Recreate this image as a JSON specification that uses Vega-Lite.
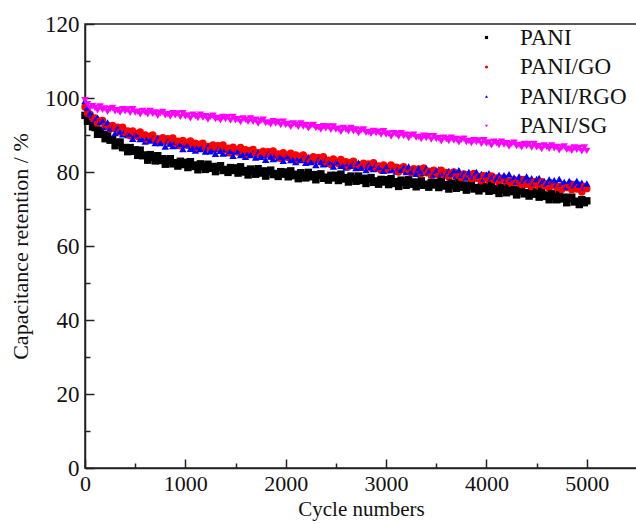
{
  "$schema": "https://vega.github.io/schema/vega-lite/v6.json",
  "width": 552,
  "height": 444,
  "autosize": {"type": "none"},
  "padding": {"left": 85, "top": 24, "right": 0, "bottom": 56},
  "background": "white",
  "config": {
    "view": {"stroke": "#222", "strokeWidth": 1.5},
    "font": "Liberation Serif",
    "axis": {"domainColor": "#222", "domainWidth": 1.5, "tickColor": "#222", "tickWidth": 1.5, "grid": false, "labelFont": "Liberation Serif", "titleFont": "Liberation Serif", "labelColor": "#111", "titleColor": "#111", "labelFontSize": 23, "titleFontSize": 22, "titleFontWeight": "normal"}
  },
  "data": {
    "values": [
{"c":0,"PANI":95.3,"PANI/GO":97.6,"PANI/RGO":99.2,"PANI/SG":99.4},
{"c":25,"PANI":93.7,"PANI/GO":95.8,"PANI/RGO":97.4,"PANI/SG":98.3},
{"c":50,"PANI":93.7,"PANI/GO":95.6,"PANI/RGO":95.8,"PANI/SG":97.3},
{"c":75,"PANI":92.2,"PANI/GO":94.5,"PANI/RGO":95.3,"PANI/SG":97.8},
{"c":100,"PANI":92.0,"PANI/GO":94.6,"PANI/RGO":93.9,"PANI/SG":97.3},
{"c":125,"PANI":90.2,"PANI/GO":93.1,"PANI/RGO":94.7,"PANI/SG":96.7},
{"c":150,"PANI":91.3,"PANI/GO":93.8,"PANI/RGO":93.6,"PANI/SG":97.7},
{"c":175,"PANI":90.2,"PANI/GO":93.9,"PANI/RGO":93.8,"PANI/SG":96.8},
{"c":200,"PANI":89.0,"PANI/GO":92.4,"PANI/RGO":92.2,"PANI/SG":97.2},
{"c":225,"PANI":90.1,"PANI/GO":92.6,"PANI/RGO":93.4,"PANI/SG":96.3},
{"c":250,"PANI":88.6,"PANI/GO":91.6,"PANI/RGO":91.8,"PANI/SG":97.0},
{"c":275,"PANI":88.8,"PANI/GO":92.6,"PANI/RGO":92.0,"PANI/SG":97.3},
{"c":300,"PANI":87.1,"PANI/GO":91.7,"PANI/RGO":90.5,"PANI/SG":96.4},
{"c":325,"PANI":88.0,"PANI/GO":92.1,"PANI/RGO":91.8,"PANI/SG":96.7},
{"c":350,"PANI":88.1,"PANI/GO":90.8,"PANI/RGO":91.0,"PANI/SG":96.1},
{"c":375,"PANI":86.6,"PANI/GO":92.1,"PANI/RGO":90.2,"PANI/SG":97.0},
{"c":400,"PANI":86.6,"PANI/GO":90.7,"PANI/RGO":91.2,"PANI/SG":96.4},
{"c":425,"PANI":85.5,"PANI/GO":91.1,"PANI/RGO":90.0,"PANI/SG":96.9},
{"c":450,"PANI":86.6,"PANI/GO":89.8,"PANI/RGO":90.4,"PANI/SG":96.0},
{"c":475,"PANI":85.6,"PANI/GO":91.1,"PANI/RGO":89.0,"PANI/SG":97.0},
{"c":500,"PANI":86.0,"PANI/GO":90.4,"PANI/RGO":89.9,"PANI/SG":96.1},
{"c":525,"PANI":84.5,"PANI/GO":89.6,"PANI/RGO":90.2,"PANI/SG":96.3},
{"c":550,"PANI":85.9,"PANI/GO":90.8,"PANI/RGO":88.9,"PANI/SG":95.6},
{"c":575,"PANI":84.4,"PANI/GO":89.6,"PANI/RGO":89.1,"PANI/SG":96.5},
{"c":600,"PANI":84.6,"PANI/GO":90.0,"PANI/RGO":88.2,"PANI/SG":96.1},
{"c":625,"PANI":83.2,"PANI/GO":88.7,"PANI/RGO":89.3,"PANI/SG":95.6},
{"c":650,"PANI":84.7,"PANI/GO":89.7,"PANI/RGO":88.5,"PANI/SG":96.5},
{"c":675,"PANI":83.9,"PANI/GO":90.0,"PANI/RGO":89.0,"PANI/SG":95.7},
{"c":700,"PANI":83.0,"PANI/GO":88.7,"PANI/RGO":87.8,"PANI/SG":96.1},
{"c":725,"PANI":84.4,"PANI/GO":89.0,"PANI/RGO":89.1,"PANI/SG":95.2},
{"c":750,"PANI":83.1,"PANI/GO":88.2,"PANI/RGO":87.8,"PANI/SG":95.9},
{"c":775,"PANI":83.6,"PANI/GO":89.3,"PANI/RGO":88.2,"PANI/SG":96.2},
{"c":800,"PANI":82.1,"PANI/GO":88.5,"PANI/RGO":86.9,"PANI/SG":95.3},
{"c":825,"PANI":83.2,"PANI/GO":89.0,"PANI/RGO":88.3,"PANI/SG":95.6},
{"c":850,"PANI":83.6,"PANI/GO":87.8,"PANI/RGO":87.7,"PANI/SG":95.0},
{"c":875,"PANI":82.2,"PANI/GO":89.2,"PANI/RGO":87.0,"PANI/SG":95.9},
{"c":900,"PANI":82.5,"PANI/GO":87.9,"PANI/RGO":88.2,"PANI/SG":95.3},
{"c":925,"PANI":81.6,"PANI/GO":88.3,"PANI/RGO":87.1,"PANI/SG":95.8},
{"c":950,"PANI":82.9,"PANI/GO":87.1,"PANI/RGO":87.6,"PANI/SG":94.9},
{"c":975,"PANI":82.0,"PANI/GO":88.5,"PANI/RGO":86.2,"PANI/SG":95.9},
{"c":1000,"PANI":82.6,"PANI/GO":87.9,"PANI/RGO":87.2,"PANI/SG":95.0},
{"c":1025,"PANI":81.2,"PANI/GO":87.2,"PANI/RGO":87.5,"PANI/SG":95.3},
{"c":1050,"PANI":82.8,"PANI/GO":88.4,"PANI/RGO":86.3,"PANI/SG":94.5},
{"c":1075,"PANI":81.5,"PANI/GO":87.3,"PANI/RGO":86.6,"PANI/SG":95.5},
{"c":1100,"PANI":81.9,"PANI/GO":87.8,"PANI/RGO":85.8,"PANI/SG":95.1},
{"c":1125,"PANI":80.6,"PANI/GO":86.5,"PANI/RGO":86.9,"PANI/SG":94.6},
{"c":1150,"PANI":82.2,"PANI/GO":87.5,"PANI/RGO":86.2,"PANI/SG":95.5},
{"c":1175,"PANI":81.5,"PANI/GO":87.8,"PANI/RGO":86.7,"PANI/SG":94.7},
{"c":1200,"PANI":80.7,"PANI/GO":86.6,"PANI/RGO":85.5,"PANI/SG":95.1},
{"c":1225,"PANI":82.1,"PANI/GO":86.9,"PANI/RGO":86.9,"PANI/SG":94.2},
{"c":1250,"PANI":81.0,"PANI/GO":86.1,"PANI/RGO":85.6,"PANI/SG":94.9},
{"c":1275,"PANI":81.5,"PANI/GO":87.3,"PANI/RGO":86.1,"PANI/SG":95.2},
{"c":1300,"PANI":80.1,"PANI/GO":86.6,"PANI/RGO":84.9,"PANI/SG":94.3},
{"c":1325,"PANI":81.3,"PANI/GO":87.1,"PANI/RGO":86.3,"PANI/SG":94.6},
{"c":1350,"PANI":81.7,"PANI/GO":85.9,"PANI/RGO":85.7,"PANI/SG":94.0},
{"c":1375,"PANI":80.4,"PANI/GO":87.3,"PANI/RGO":85.0,"PANI/SG":94.9},
{"c":1400,"PANI":80.7,"PANI/GO":86.0,"PANI/RGO":86.2,"PANI/SG":94.3},
{"c":1425,"PANI":79.9,"PANI/GO":86.4,"PANI/RGO":85.1,"PANI/SG":94.8},
{"c":1450,"PANI":81.2,"PANI/GO":85.2,"PANI/RGO":85.7,"PANI/SG":93.9},
{"c":1475,"PANI":80.4,"PANI/GO":86.7,"PANI/RGO":84.4,"PANI/SG":94.9},
{"c":1500,"PANI":81.1,"PANI/GO":86.1,"PANI/RGO":85.4,"PANI/SG":94.0},
{"c":1525,"PANI":79.7,"PANI/GO":85.4,"PANI/RGO":85.7,"PANI/SG":94.3},
{"c":1550,"PANI":81.4,"PANI/GO":86.6,"PANI/RGO":84.6,"PANI/SG":93.5},
{"c":1575,"PANI":80.0,"PANI/GO":85.5,"PANI/RGO":84.9,"PANI/SG":94.5},
{"c":1600,"PANI":80.4,"PANI/GO":86.0,"PANI/RGO":84.1,"PANI/SG":94.1},
{"c":1625,"PANI":79.2,"PANI/GO":84.7,"PANI/RGO":85.2,"PANI/SG":93.6},
{"c":1650,"PANI":80.8,"PANI/GO":85.8,"PANI/RGO":84.6,"PANI/SG":94.5},
{"c":1675,"PANI":80.2,"PANI/GO":86.1,"PANI/RGO":85.1,"PANI/SG":93.6},
{"c":1700,"PANI":79.4,"PANI/GO":84.9,"PANI/RGO":83.9,"PANI/SG":94.1},
{"c":1725,"PANI":80.9,"PANI/GO":85.2,"PANI/RGO":85.3,"PANI/SG":93.1},
{"c":1750,"PANI":79.7,"PANI/GO":84.5,"PANI/RGO":84.1,"PANI/SG":93.8},
{"c":1775,"PANI":80.3,"PANI/GO":85.6,"PANI/RGO":84.5,"PANI/SG":94.1},
{"c":1800,"PANI":78.9,"PANI/GO":84.9,"PANI/RGO":83.3,"PANI/SG":93.2},
{"c":1825,"PANI":80.1,"PANI/GO":85.5,"PANI/RGO":84.8,"PANI/SG":93.4},
{"c":1850,"PANI":80.5,"PANI/GO":84.3,"PANI/RGO":84.2,"PANI/SG":92.9},
{"c":1875,"PANI":79.3,"PANI/GO":85.7,"PANI/RGO":83.5,"PANI/SG":93.7},
{"c":1900,"PANI":79.6,"PANI/GO":84.5,"PANI/RGO":84.8,"PANI/SG":93.1},
{"c":1925,"PANI":78.8,"PANI/GO":84.9,"PANI/RGO":83.7,"PANI/SG":93.5},
{"c":1950,"PANI":80.1,"PANI/GO":83.7,"PANI/RGO":84.2,"PANI/SG":92.7},
{"c":1975,"PANI":79.4,"PANI/GO":85.2,"PANI/RGO":83.0,"PANI/SG":93.6},
{"c":2000,"PANI":80.0,"PANI/GO":84.6,"PANI/RGO":84.0,"PANI/SG":92.7},
{"c":2025,"PANI":78.7,"PANI/GO":83.9,"PANI/RGO":84.3,"PANI/SG":93.0},
{"c":2050,"PANI":80.3,"PANI/GO":85.1,"PANI/RGO":83.2,"PANI/SG":92.2},
{"c":2075,"PANI":79.0,"PANI/GO":84.1,"PANI/RGO":83.5,"PANI/SG":93.1},
{"c":2100,"PANI":79.4,"PANI/GO":84.6,"PANI/RGO":82.7,"PANI/SG":92.8},
{"c":2125,"PANI":78.2,"PANI/GO":83.3,"PANI/RGO":83.8,"PANI/SG":92.2},
{"c":2150,"PANI":79.8,"PANI/GO":84.3,"PANI/RGO":83.2,"PANI/SG":93.1},
{"c":2175,"PANI":79.2,"PANI/GO":84.6,"PANI/RGO":83.7,"PANI/SG":92.3},
{"c":2200,"PANI":78.4,"PANI/GO":83.4,"PANI/RGO":82.5,"PANI/SG":92.7},
{"c":2225,"PANI":79.9,"PANI/GO":83.7,"PANI/RGO":83.9,"PANI/SG":91.8},
{"c":2250,"PANI":78.7,"PANI/GO":82.9,"PANI/RGO":82.7,"PANI/SG":92.5},
{"c":2275,"PANI":79.3,"PANI/GO":84.1,"PANI/RGO":83.1,"PANI/SG":92.7},
{"c":2300,"PANI":77.9,"PANI/GO":83.4,"PANI/RGO":81.9,"PANI/SG":91.9},
{"c":2325,"PANI":79.1,"PANI/GO":83.9,"PANI/RGO":83.3,"PANI/SG":92.1},
{"c":2350,"PANI":79.5,"PANI/GO":82.7,"PANI/RGO":82.8,"PANI/SG":91.5},
{"c":2375,"PANI":78.3,"PANI/GO":84.1,"PANI/RGO":82.1,"PANI/SG":92.4},
{"c":2400,"PANI":78.6,"PANI/GO":82.8,"PANI/RGO":83.3,"PANI/SG":91.8},
{"c":2425,"PANI":77.8,"PANI/GO":83.2,"PANI/RGO":82.2,"PANI/SG":92.3},
{"c":2450,"PANI":79.1,"PANI/GO":82.0,"PANI/RGO":82.8,"PANI/SG":91.4},
{"c":2475,"PANI":78.4,"PANI/GO":83.5,"PANI/RGO":81.5,"PANI/SG":92.3},
{"c":2500,"PANI":79.1,"PANI/GO":82.9,"PANI/RGO":82.5,"PANI/SG":91.5},
{"c":2525,"PANI":77.7,"PANI/GO":82.2,"PANI/RGO":82.8,"PANI/SG":91.7},
{"c":2550,"PANI":79.4,"PANI/GO":83.4,"PANI/RGO":81.7,"PANI/SG":90.9},
{"c":2575,"PANI":78.1,"PANI/GO":82.3,"PANI/RGO":82.0,"PANI/SG":91.9},
{"c":2600,"PANI":78.5,"PANI/GO":82.8,"PANI/RGO":81.2,"PANI/SG":91.5},
{"c":2625,"PANI":77.3,"PANI/GO":81.5,"PANI/RGO":82.4,"PANI/SG":91.0},
{"c":2650,"PANI":78.9,"PANI/GO":82.6,"PANI/RGO":81.7,"PANI/SG":91.9},
{"c":2675,"PANI":78.2,"PANI/GO":82.9,"PANI/RGO":82.2,"PANI/SG":91.0},
{"c":2700,"PANI":77.5,"PANI/GO":81.7,"PANI/RGO":81.1,"PANI/SG":91.5},
{"c":2725,"PANI":78.9,"PANI/GO":82.0,"PANI/RGO":82.5,"PANI/SG":90.5},
{"c":2750,"PANI":77.7,"PANI/GO":81.3,"PANI/RGO":81.2,"PANI/SG":91.2},
{"c":2775,"PANI":78.3,"PANI/GO":82.4,"PANI/RGO":81.7,"PANI/SG":91.5},
{"c":2800,"PANI":76.9,"PANI/GO":81.7,"PANI/RGO":80.5,"PANI/SG":90.6},
{"c":2825,"PANI":78.1,"PANI/GO":82.2,"PANI/RGO":82.0,"PANI/SG":90.8},
{"c":2850,"PANI":78.5,"PANI/GO":81.1,"PANI/RGO":81.4,"PANI/SG":90.3},
{"c":2875,"PANI":77.2,"PANI/GO":82.5,"PANI/RGO":80.8,"PANI/SG":91.1},
{"c":2900,"PANI":77.6,"PANI/GO":81.2,"PANI/RGO":82.0,"PANI/SG":90.5},
{"c":2925,"PANI":76.7,"PANI/GO":81.6,"PANI/RGO":81.0,"PANI/SG":90.9},
{"c":2950,"PANI":78.0,"PANI/GO":80.5,"PANI/RGO":81.5,"PANI/SG":90.1},
{"c":2975,"PANI":77.3,"PANI/GO":81.9,"PANI/RGO":80.3,"PANI/SG":91.0},
{"c":3000,"PANI":77.9,"PANI/GO":81.3,"PANI/RGO":81.3,"PANI/SG":90.1},
{"c":3025,"PANI":76.6,"PANI/GO":80.6,"PANI/RGO":81.7,"PANI/SG":90.4},
{"c":3050,"PANI":78.2,"PANI/GO":81.9,"PANI/RGO":80.5,"PANI/SG":89.6},
{"c":3075,"PANI":76.9,"PANI/GO":80.8,"PANI/RGO":80.9,"PANI/SG":90.5},
{"c":3100,"PANI":77.4,"PANI/GO":81.3,"PANI/RGO":80.1,"PANI/SG":90.2},
{"c":3125,"PANI":76.1,"PANI/GO":80.0,"PANI/RGO":81.3,"PANI/SG":89.6},
{"c":3150,"PANI":77.8,"PANI/GO":81.1,"PANI/RGO":80.6,"PANI/SG":90.5},
{"c":3175,"PANI":77.2,"PANI/GO":81.4,"PANI/RGO":81.2,"PANI/SG":89.7},
{"c":3200,"PANI":76.4,"PANI/GO":80.2,"PANI/RGO":80.0,"PANI/SG":90.1},
{"c":3225,"PANI":77.9,"PANI/GO":80.6,"PANI/RGO":81.5,"PANI/SG":89.2},
{"c":3250,"PANI":76.7,"PANI/GO":79.8,"PANI/RGO":80.2,"PANI/SG":89.9},
{"c":3275,"PANI":77.3,"PANI/GO":80.9,"PANI/RGO":80.7,"PANI/SG":90.1},
{"c":3300,"PANI":76.0,"PANI/GO":80.3,"PANI/RGO":79.5,"PANI/SG":89.3},
{"c":3325,"PANI":77.1,"PANI/GO":80.8,"PANI/RGO":81.0,"PANI/SG":89.5},
{"c":3350,"PANI":77.6,"PANI/GO":79.6,"PANI/RGO":80.4,"PANI/SG":88.9},
{"c":3375,"PANI":76.4,"PANI/GO":81.1,"PANI/RGO":79.8,"PANI/SG":89.8},
{"c":3400,"PANI":76.7,"PANI/GO":79.8,"PANI/RGO":81.0,"PANI/SG":89.2},
{"c":3425,"PANI":75.9,"PANI/GO":80.2,"PANI/RGO":80.0,"PANI/SG":89.7},
{"c":3450,"PANI":77.2,"PANI/GO":79.1,"PANI/RGO":80.5,"PANI/SG":88.8},
{"c":3475,"PANI":76.5,"PANI/GO":80.5,"PANI/RGO":79.3,"PANI/SG":89.7},
{"c":3500,"PANI":77.2,"PANI/GO":79.9,"PANI/RGO":80.3,"PANI/SG":88.9},
{"c":3525,"PANI":75.8,"PANI/GO":79.2,"PANI/RGO":80.7,"PANI/SG":89.1},
{"c":3550,"PANI":77.5,"PANI/GO":80.5,"PANI/RGO":79.5,"PANI/SG":88.3},
{"c":3575,"PANI":76.2,"PANI/GO":79.4,"PANI/RGO":79.9,"PANI/SG":89.3},
{"c":3600,"PANI":76.6,"PANI/GO":79.9,"PANI/RGO":79.1,"PANI/SG":88.9},
{"c":3625,"PANI":75.4,"PANI/GO":78.6,"PANI/RGO":80.3,"PANI/SG":88.4},
{"c":3650,"PANI":77.0,"PANI/GO":79.7,"PANI/RGO":79.6,"PANI/SG":89.3},
{"c":3675,"PANI":76.4,"PANI/GO":80.0,"PANI/RGO":80.2,"PANI/SG":88.5},
{"c":3700,"PANI":75.6,"PANI/GO":78.8,"PANI/RGO":79.0,"PANI/SG":88.9},
{"c":3725,"PANI":77.1,"PANI/GO":79.1,"PANI/RGO":80.5,"PANI/SG":88.0},
{"c":3750,"PANI":75.9,"PANI/GO":78.4,"PANI/RGO":79.2,"PANI/SG":88.7},
{"c":3775,"PANI":76.5,"PANI/GO":79.5,"PANI/RGO":79.7,"PANI/SG":89.0},
{"c":3800,"PANI":75.1,"PANI/GO":78.8,"PANI/RGO":78.5,"PANI/SG":88.1},
{"c":3825,"PANI":76.3,"PANI/GO":79.3,"PANI/RGO":80.0,"PANI/SG":88.4},
{"c":3850,"PANI":76.7,"PANI/GO":78.2,"PANI/RGO":79.4,"PANI/SG":87.8},
{"c":3875,"PANI":75.4,"PANI/GO":79.6,"PANI/RGO":78.8,"PANI/SG":88.6},
{"c":3900,"PANI":75.8,"PANI/GO":78.3,"PANI/RGO":80.0,"PANI/SG":88.1},
{"c":3925,"PANI":74.9,"PANI/GO":78.7,"PANI/RGO":79.0,"PANI/SG":88.5},
{"c":3950,"PANI":76.2,"PANI/GO":77.6,"PANI/RGO":79.5,"PANI/SG":87.6},
{"c":3975,"PANI":75.5,"PANI/GO":79.0,"PANI/RGO":78.3,"PANI/SG":88.6},
{"c":4000,"PANI":76.1,"PANI/GO":78.4,"PANI/RGO":79.3,"PANI/SG":87.7},
{"c":4025,"PANI":74.8,"PANI/GO":77.7,"PANI/RGO":79.7,"PANI/SG":88.0},
{"c":4050,"PANI":76.4,"PANI/GO":78.9,"PANI/RGO":78.5,"PANI/SG":87.2},
{"c":4075,"PANI":75.0,"PANI/GO":77.9,"PANI/RGO":78.8,"PANI/SG":88.2},
{"c":4100,"PANI":75.5,"PANI/GO":78.4,"PANI/RGO":78.1,"PANI/SG":87.8},
{"c":4125,"PANI":74.2,"PANI/GO":77.1,"PANI/RGO":79.2,"PANI/SG":87.3},
{"c":4150,"PANI":75.8,"PANI/GO":78.1,"PANI/RGO":78.5,"PANI/SG":88.2},
{"c":4175,"PANI":75.2,"PANI/GO":78.4,"PANI/RGO":79.1,"PANI/SG":87.4},
{"c":4200,"PANI":74.4,"PANI/GO":77.2,"PANI/RGO":77.9,"PANI/SG":87.8},
{"c":4225,"PANI":75.8,"PANI/GO":77.5,"PANI/RGO":79.4,"PANI/SG":86.9},
{"c":4250,"PANI":74.7,"PANI/GO":76.8,"PANI/RGO":78.1,"PANI/SG":87.6},
{"c":4275,"PANI":75.2,"PANI/GO":77.9,"PANI/RGO":78.5,"PANI/SG":87.9},
{"c":4300,"PANI":73.8,"PANI/GO":77.2,"PANI/RGO":77.4,"PANI/SG":87.0},
{"c":4325,"PANI":74.9,"PANI/GO":77.7,"PANI/RGO":78.8,"PANI/SG":87.3},
{"c":4350,"PANI":75.4,"PANI/GO":76.6,"PANI/RGO":78.2,"PANI/SG":86.7},
{"c":4375,"PANI":74.1,"PANI/GO":78.0,"PANI/RGO":77.6,"PANI/SG":87.6},
{"c":4400,"PANI":74.4,"PANI/GO":76.7,"PANI/RGO":78.8,"PANI/SG":87.0},
{"c":4425,"PANI":73.5,"PANI/GO":77.1,"PANI/RGO":77.8,"PANI/SG":87.5},
{"c":4450,"PANI":74.8,"PANI/GO":76.0,"PANI/RGO":78.3,"PANI/SG":86.6},
{"c":4475,"PANI":74.0,"PANI/GO":77.4,"PANI/RGO":77.0,"PANI/SG":87.6},
{"c":4500,"PANI":74.6,"PANI/GO":76.8,"PANI/RGO":78.1,"PANI/SG":86.7},
{"c":4525,"PANI":73.2,"PANI/GO":76.1,"PANI/RGO":78.4,"PANI/SG":87.0},
{"c":4550,"PANI":74.8,"PANI/GO":77.4,"PANI/RGO":77.2,"PANI/SG":86.2},
{"c":4575,"PANI":73.4,"PANI/GO":76.3,"PANI/RGO":77.6,"PANI/SG":87.2},
{"c":4600,"PANI":73.8,"PANI/GO":76.8,"PANI/RGO":76.8,"PANI/SG":86.8},
{"c":4625,"PANI":72.5,"PANI/GO":75.6,"PANI/RGO":78.0,"PANI/SG":86.3},
{"c":4650,"PANI":74.1,"PANI/GO":76.6,"PANI/RGO":77.3,"PANI/SG":87.2},
{"c":4675,"PANI":73.4,"PANI/GO":76.9,"PANI/RGO":77.8,"PANI/SG":86.4},
{"c":4700,"PANI":72.5,"PANI/GO":75.8,"PANI/RGO":76.7,"PANI/SG":86.8},
{"c":4725,"PANI":73.9,"PANI/GO":76.1,"PANI/RGO":78.1,"PANI/SG":85.9},
{"c":4750,"PANI":72.7,"PANI/GO":75.3,"PANI/RGO":76.8,"PANI/SG":86.6},
{"c":4775,"PANI":73.2,"PANI/GO":76.5,"PANI/RGO":77.3,"PANI/SG":86.9},
{"c":4800,"PANI":71.7,"PANI/GO":75.8,"PANI/RGO":76.1,"PANI/SG":86.0},
{"c":4825,"PANI":72.8,"PANI/GO":76.4,"PANI/RGO":77.6,"PANI/SG":86.3},
{"c":4850,"PANI":73.2,"PANI/GO":75.2,"PANI/RGO":77.0,"PANI/SG":85.7},
{"c":4875,"PANI":71.9,"PANI/GO":76.6,"PANI/RGO":76.4,"PANI/SG":86.6},
{"c":4900,"PANI":72.1,"PANI/GO":75.4,"PANI/RGO":77.6,"PANI/SG":86.0},
{"c":4925,"PANI":71.2,"PANI/GO":75.8,"PANI/RGO":76.6,"PANI/SG":86.5},
{"c":4950,"PANI":72.5,"PANI/GO":74.6,"PANI/RGO":77.1,"PANI/SG":85.6},
{"c":4975,"PANI":71.7,"PANI/GO":76.1,"PANI/RGO":75.9,"PANI/SG":86.6},
{"c":5000,"PANI":72.2,"PANI/GO":75.5,"PANI/RGO":76.9,"PANI/SG":85.7}
    ]
  },
  "transform": [
    {"fold": ["PANI", "PANI/GO", "PANI/RGO", "PANI/SG"], "as": ["series", "v"]}
  ],
  "mark": {"type": "point", "filled": true, "opacity": 1, "size": 55},
  "encoding": {
    "x": {
      "field": "c", "type": "quantitative",
      "scale": {"domain": [0, 5500], "nice": false, "zero": false},
      "axis": {
        "title": "Cycle numbers",
        "values": [0, 500, 1000, 1500, 2000, 2500, 3000, 3500, 4000, 4500, 5000],
        "labelExpr": "datum.value % 1000 === 0 ? datum.label : ''",
        "format": "d",
        "labelFontSize": 22,
        "titleFontSize": 21,
        "tickSize": {"expr": "datum.value % 1000 === 0 ? -9 : -5"},
        "labelPadding": 14,
        "titlePadding": 0,
        "labelFlush": false,
        "labelOverlap": false
      }
    },
    "y": {
      "field": "v", "type": "quantitative",
      "scale": {"domain": [0, 120], "nice": false, "zero": false},
      "axis": {
        "title": "Capacitance retention / %",
        "values": [0, 10, 20, 30, 40, 50, 60, 70, 80, 90, 100, 110, 120],
        "labelExpr": "datum.value % 20 === 0 ? datum.label : ''",
        "tickSize": {"expr": "datum.value % 20 === 0 ? -9 : -5"},
        "labelPadding": 15,
        "titlePadding": 12,
        "labelFlush": false,
        "labelOverlap": false
      }
    },
    "color": {
      "field": "series", "type": "nominal",
      "scale": {"domain": ["PANI", "PANI/GO", "PANI/RGO", "PANI/SG"], "range": ["#000000", "#ff0000", "#0000ff", "#ff00ff"]},
      "legend": {
        "title": null, "orient": "none", "legendX": 390, "legendY": 2,
        "labelFont": "Liberation Serif", "labelFontSize": 23, "labelColor": "#111",
        "symbolSize": 10, "labelOffset": 22, "rowPadding": 5.5
      }
    },
    "shape": {
      "field": "series", "type": "nominal",
      "scale": {"domain": ["PANI", "PANI/GO", "PANI/RGO", "PANI/SG"], "range": ["square", "circle", "triangle-up", "triangle-down"]}
    }
  }
}
